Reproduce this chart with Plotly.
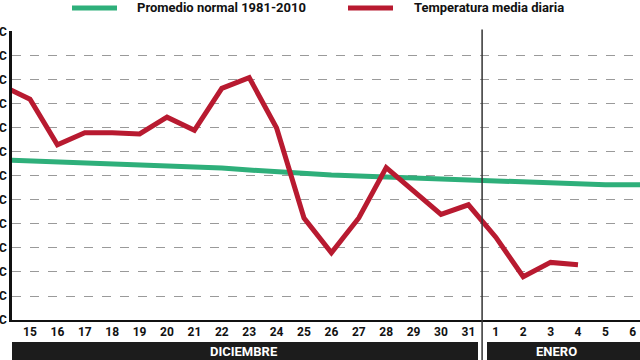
import plotly.graph_objects as go

# Days (index 0 = 14 Dec, clipped at left edge)
day_labels = ["14", "15", "16", "17", "18", "19", "20", "21", "22", "23", "24", "25",
              "26", "27", "28", "29", "30", "31", "1", "2", "3", "4", "5", "6", "7"]
temp_media = [9.75, 9.2, 7.3, 7.8, 7.8, 7.75, 8.45, 7.9, 9.65, 10.1, 8.0, 4.25,
              2.8, 4.25, 6.35, 5.4, 4.4, 4.8, 3.45, 1.8, 2.4, 2.3]
promedio = [6.67, 6.63, 6.58, 6.54, 6.5, 6.46, 6.42, 6.38, 6.33, 6.25, 6.17, 6.08,
            6.04, 6.0, 5.96, 5.92, 5.88, 5.79, 5.75, 5.71, 5.67, 5.67, 5.63, 5.63, 5.63]
y_ticks = list(range(0, 13))
y_tick_text = [f"{v}ºC" for v in y_ticks]
months = ["DICIEMBRE", "ENERO"]

GREEN = "#2eaf7a"
RED = "#b81a30"
FONT = "Liberation Sans Narrow, Roboto, Arial, sans-serif"

x_idx = list(range(len(day_labels)))

fig = go.Figure()
fig.add_trace(go.Scatter(x=x_idx[:len(promedio)], y=promedio, mode="lines",
                         line=dict(color=GREEN, width=5), name="Promedio normal 1981-2010"))
fig.add_trace(go.Scatter(x=x_idx[:len(temp_media)], y=temp_media, mode="lines",
                         line=dict(color=RED, width=5), name="Temperatura media diaria"))

x0 = 1 - 18 / 27.4
x1 = 1 + 610 / 27.4

fig.update_layout(
    width=640, height=360,
    margin=dict(l=12, r=0, t=31, b=40),
    paper_bgcolor="white", plot_bgcolor="white",
    showlegend=False,
    template="none",
    font=dict(family=FONT, color="#111"),
    xaxis=dict(range=[x0, x1], tickvals=x_idx[1:24], ticktext=day_labels[1:24],
               showgrid=False, showline=True, linecolor="#111", linewidth=1.5,
               ticks="", tickfont=dict(size=12, family=FONT, weight="bold", color="#111"),
               automargin=False, zeroline=False),
    yaxis=dict(range=[0, 12.04], tickvals=y_ticks, ticktext=y_tick_text,
               showgrid=True, gridcolor="#9a9a9a", griddash="dash", gridwidth=1,
               showline=True, linecolor="#111", linewidth=2.5, ticks="",
               tickfont=dict(size=12, family=FONT, weight="bold", color="#111"),
               automargin=False, zeroline=False),
)

# separator between months
fig.add_shape(type="line", xref="x", yref="paper", x0=17.5, x1=17.5, y0=-0.14, y1=1.005,
              line=dict(color="#333", width=1.5))

# month bars at bottom
fig.add_shape(type="rect", xref="paper", yref="paper", x0=0, x1=(478 - 12) / 628,
              y0=-0.14, y1=-22 / 289, fillcolor="#1c1c1c", line_width=0, layer="above")
fig.add_shape(type="rect", xref="paper", yref="paper", x0=(487 - 12) / 628, x1=1,
              y0=-0.14, y1=-22 / 289, fillcolor="#1c1c1c", line_width=0, layer="above")
fig.add_annotation(text=months[0], xref="paper", yref="paper", x=(244 - 12) / 628, y=-31 / 289,
                   yanchor="middle", showarrow=False,
                   font=dict(color="white", size=13, family=FONT, weight="bold"))
fig.add_annotation(text=months[1], xref="paper", yref="paper", x=(579 - 12) / 628, y=-31 / 289,
                   yanchor="middle", showarrow=False,
                   font=dict(color="white", size=13, family=FONT, weight="bold"))

# legend (drawn in the header)
def legend_item(xs, xe, xt, color, text):
    fig.add_shape(type="line", xref="paper", yref="paper",
                  x0=(xs - 12) / 628, x1=(xe - 12) / 628, y0=1 + 23 / 289, y1=1 + 23 / 289,
                  line=dict(color=color, width=5))
    fig.add_annotation(text=text, xref="paper", yref="paper", x=(xt - 12) / 628,
                       y=1 + 23 / 289, xanchor="left", yanchor="middle", showarrow=False,
                       font=dict(size=13, family=FONT, weight="bold", color="#111"))

legend_item(72, 117, 135, GREEN, fig.data[0].name)
legend_item(348, 393, 412, RED, fig.data[1].name)

fig.write_html("out.html", config={"displayModeBar": False},
               post_script="document.body.style.margin='0';document.body.style.overflow='hidden';")
